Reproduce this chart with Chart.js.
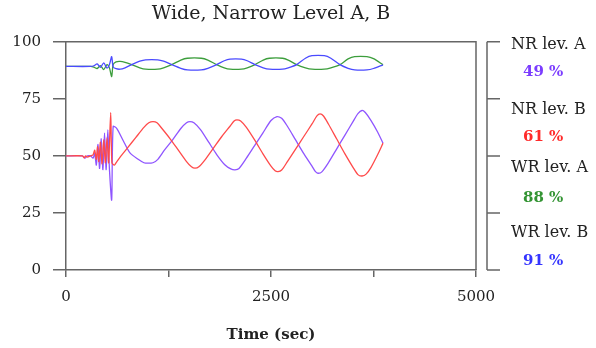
<!DOCTYPE html>
<html><head><meta charset="utf-8">
<script src="https://cdn.jsdelivr.net/npm/chart.js@4"></script>
<style>html,body{margin:0;padding:0;background:#fff;}</style>
</head><body>
<canvas id="c" width="596" height="348"></canvas>
<script>
// ---- data ----
const titleText = 'Wide, Narrow Level A, B';
const xTitle = 'Time (sec)';
const xTickLabels = [0, 2500, 5000];
const yTickLabels = [0, 25, 50, 75, 100];

const panelNames = ['NR lev. A', 'NR lev. B', 'WR lev. A', 'WR lev. B'];
const panelPercents = [49, 61, 88, 91];

// NR lev. A (purple)
const nrA_t = [0,200,230,260,300,330,350,370,390,410,430,450,470,490,510,530,557,575,620,700,780,880,950,1000,1060,1120,1200,1300,1400,1470,1512,1560,1640,1740,1840,1940,2010,2061,2110,2200,2300,2400,2500,2573,2630,2700,2800,2900,3000,3040,3073,3120,3200,3300,3400,3500,3560,3610,3650,3720,3800,3866];
const nrA_v = [50,50,49,50,50,49,51,46,55,44.5,57.5,44,60,44,61.4,44,30.7,62.9,62,56.5,51.3,48.5,47,46.8,47,48.5,52.5,57,62,64.5,65,64.5,61.5,56,50.5,46,44.3,43.9,44.5,49,54.5,60,65.5,67.2,66.5,63,57,51,45.5,43.2,42.4,43,47,53,59,65,68.5,69.9,69,65.5,60.5,55.6];

// NR lev. B (red)
const nrB_t = [0,200,220,240,260,300,330,350,370,385,400,420,440,460,480,500,520,545,560,590,620,660,750,850,950,1010,1061,1110,1170,1270,1370,1470,1530,1573,1620,1700,1800,1900,2000,2050,2085,2130,2200,2300,2400,2500,2550,2585,2630,2700,2800,2900,3000,3060,3098,3140,3200,3300,3400,3500,3560,3610,3660,3720,3800,3866];
const nrB_v = [50,50,49.2,50,49.5,50,50.5,52.5,48.5,54,47.5,56,46.5,57,47,58,47,69,47,46,47.5,49.5,53.5,58,62.5,64.5,65,64.5,62,57.5,52.5,47.5,45.2,44.6,45.2,48.5,53.5,58.5,63,65.3,65.8,65.3,62.5,57,51,45.5,43.5,43.1,43.8,47.5,53,58.5,64,67.5,68.4,67.5,64,57.5,51,45,41.8,41.2,42,45,50.5,55.6];

// WR lev. A (green) and WR lev. B (blue) share time points
const wr_t = [0,300,340,380,420,460,500,530,557,575,610,660,720,801,900,970,1120,1190,1289,1400,1480,1650,1730,1838,1930,2000,2140,2210,2305,2405,2480,2640,2710,2813,2920,3000,3150,3230,3341,3440,3520,3670,3750,3866];
const wrA_v = [89.2,89.2,88.9,88.3,89.6,87.8,90,88.5,84.8,90,91.2,91.4,91,90,88.6,88,88,88.6,90,92,92.8,92.8,92,90,88.6,88,88,88.6,90,92,92.8,92.8,92,90,88.6,88,88,88.6,90,92.5,93.5,93.5,92.6,89.9];
const wrB_v = [89.2,89.2,89.5,90.3,88.8,90.8,88.5,90,93.5,89,88.2,88,88.6,90,91.5,92.1,92.1,91.5,90,88.4,87.7,87.7,88.4,90,91.7,92.4,92.4,91.7,90,88.6,88,88,88.6,90,92.8,93.9,93.9,92.8,90,88.4,87.7,87.7,88.3,89.9];

// ---- styles ----
const FONT = "'DejaVu Serif', 'Liberation Serif', serif";
const AXIS = '#666';
const TXT = '#222';
const C_PURPLE = '#8f55ff';
const C_RED = '#ff4a4a';
const C_GREEN = '#3c9e3c';
const C_BLUE = '#4a4aff';
const panelColors = ['#7b3cff', '#ff2a2a', '#339433', '#3535ff'];

const pts = (t, v) => t.map((x, i) => ({x: x, y: v[i]}));
const ds = (label, t, v, color, order) => ({
  label, data: pts(t, v), borderColor: color, backgroundColor: color,
  borderWidth: 1.3, pointRadius: 0, tension: 0.25, fill: false, order
});

const frame = {
  id: 'frame',
  afterDatasetsDraw(chart) {
    const a = chart.chartArea, ctx = chart.ctx;
    ctx.save();
    ctx.strokeStyle = AXIS; ctx.lineWidth = 1.5;
    ctx.beginPath();
    ctx.moveTo(a.left, a.top); ctx.lineTo(a.right, a.top); ctx.lineTo(a.right, a.bottom);
    ctx.stroke();
    ctx.restore();
  }
};

const panel = {
  id: 'panel',
  afterDraw(chart) {
    const a = chart.chartArea, ctx = chart.ctx, y = chart.scales.y;
    const lx = a.right + 11;
    ctx.save();
    ctx.strokeStyle = AXIS; ctx.lineWidth = 1.5;
    ctx.beginPath();
    ctx.moveTo(lx, y.getPixelForValue(100));
    ctx.lineTo(lx, y.getPixelForValue(0));
    yTickLabels.forEach(v => {
      const py = y.getPixelForValue(v);
      ctx.moveTo(lx, py); ctx.lineTo(lx + 13, py);
    });
    ctx.stroke();
    const nameY = [3, 68, 126, 191];
    const pctY = [30, 95, 156, 219];
    ctx.textBaseline = 'middle';
    ctx.textAlign = 'left';
    panelNames.forEach((n, i) => {
      ctx.font = 'normal 16px ' + FONT;
      ctx.fillStyle = TXT;
      ctx.fillText(n, lx + 24, a.top + nameY[i]);
      ctx.font = 'bold 15px ' + FONT;
      ctx.fillStyle = panelColors[i];
      ctx.fillText(panelPercents[i] + ' %', lx + 36, a.top + pctY[i]);
    });
    ctx.restore();
  }
};

new Chart(document.getElementById('c'), {
  type: 'line',
  data: {
    datasets: [
      ds('NR lev. A', nrA_t, nrA_v, C_PURPLE, 2),
      ds('NR lev. B', nrB_t, nrB_v, C_RED, 1),
      ds('WR lev. A', wr_t, wrA_v, C_GREEN, 2),
      ds('WR lev. B', wr_t, wrB_v, C_BLUE, 1)
    ]
  },
  options: {
    responsive: false, animation: false, devicePixelRatio: 1,
    layout: {padding: {left: 0, right: 120, top: 0, bottom: 0}},
    plugins: {
      legend: {display: false}, tooltip: {enabled: false},
      title: {display: true, text: titleText, fullSize: false, color: TXT,
        font: {family: FONT, size: 19, weight: 'normal'}, padding: {top: 3, bottom: 16}}
    },
    scales: {
      x: {
        type: 'linear', min: 0, max: 5000,
        ticks: {stepSize: 1250, autoSkip: false, maxRotation: 0, color: TXT, padding: 11,
          font: {family: FONT, size: 15},
          callback: v => xTickLabels.includes(v) ? String(v) : ''},
        grid: {drawOnChartArea: false, drawTicks: true, tickLength: 7, color: AXIS, lineWidth: 1.5},
        border: {display: true, color: AXIS, width: 1.5},
        title: {display: true, text: xTitle, color: TXT, font: {family: FONT, size: 15, weight: 'bold'}, padding: {top: 4, bottom: 4}},
        afterFit(s) { s.height = 78; }
      },
      y: {
        min: 0, max: 100,
        ticks: {stepSize: 25, color: TXT, padding: 12, font: {family: FONT, size: 15},
          callback: v => yTickLabels.includes(v) ? String(v) : ''},
        grid: {drawOnChartArea: false, drawTicks: true, tickLength: 13, color: AXIS, lineWidth: 1.5},
        border: {display: true, color: AXIS, width: 1.5},
        afterFit(s) { s.width = 66; }
      }
    }
  },
  plugins: [frame, panel]
});
</script>
</body></html>
